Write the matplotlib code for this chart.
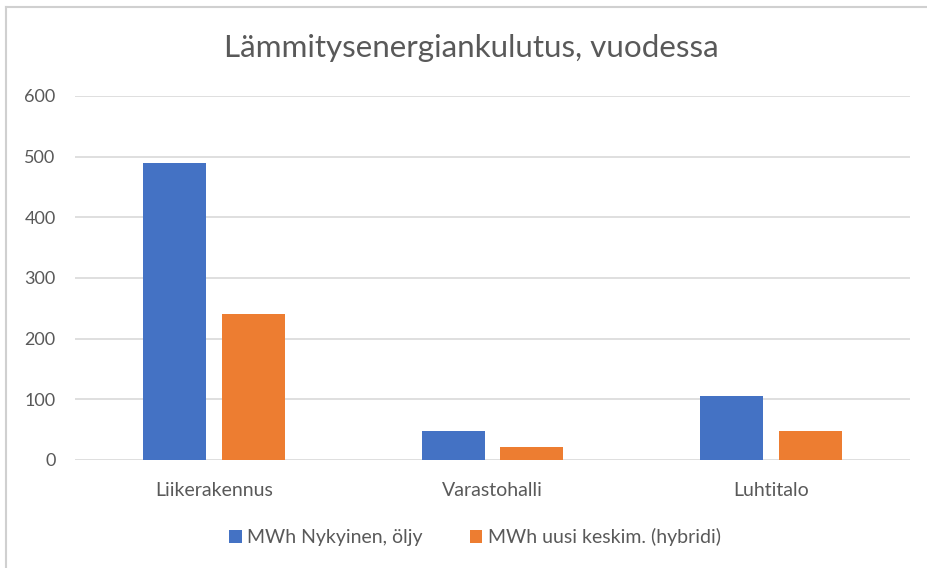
import numpy as np
import matplotlib.pyplot as plt
from matplotlib.lines import Line2D

categories = ['Liikerakennus', 'Varastohalli', 'Luhtitalo']
oil_now = [490, 48, 106]
hybrid_new = [241, 21, 48]
series_labels = ['MWh Nykyinen, öljy', 'MWh uusi keskim. (hybridi)']
title = 'Lämmitysenergiankulutus, vuodessa'

blue = '#4472C4'
orange = '#ED7D31'
text_gray = '#595959'

plt.rcParams['font.family'] = ['Lato', 'DejaVu Sans']

W, H = 927, 568
fig = plt.figure(figsize=(W / 100, H / 100), dpi=100)

# plot area in pixels: left 75, right 910, top 96, bottom 460
ax = fig.add_axes([75 / W, 1 - 460 / H, 835 / W, 364 / H])

x = np.arange(len(categories))
bw = 0.226
off = 0.141
ax.bar(x - off, oil_now, bw, color=blue, label=series_labels[0], zorder=3)
ax.bar(x + off, hybrid_new, bw, color=orange, label=series_labels[1], zorder=3)

ax.set_xlim(-0.5, 2.5)
ax.set_ylim(0, 600)
ax.set_yticks(range(0, 601, 100))
ax.set_xticks(x)
ax.set_xticklabels(categories)
ax.grid(axis='y', color='#d9d9d9', linewidth=1.2, zorder=0)
for s in ax.spines.values():
    s.set_visible(False)
ax.tick_params(axis='both', length=0, labelcolor=text_gray)
ax.tick_params(axis='y', pad=14, labelsize=13)
ax.tick_params(axis='x', pad=16, labelsize=14)

fig.text(471 / W, 1 - 48 / H, title, ha='center', va='center',
         fontsize=22.6, color=text_gray)

fig.legend(loc='center', bbox_to_anchor=(475 / W, 1 - 537 / H), ncol=2,
           frameon=False, fontsize=14, labelcolor=text_gray,
           handlelength=0.65, handleheight=0.65, handletextpad=0.3,
           columnspacing=2.4)

# chart frame
fig.add_artist(Line2D([6 / W, 1], [1 - 7 / H, 1 - 7 / H], color='#d0d0d0', lw=1.5))
fig.add_artist(Line2D([6 / W, 6 / W], [0, 1 - 7 / H], color='#d0d0d0', lw=1.5))

fig.savefig('out.png', dpi=100)
